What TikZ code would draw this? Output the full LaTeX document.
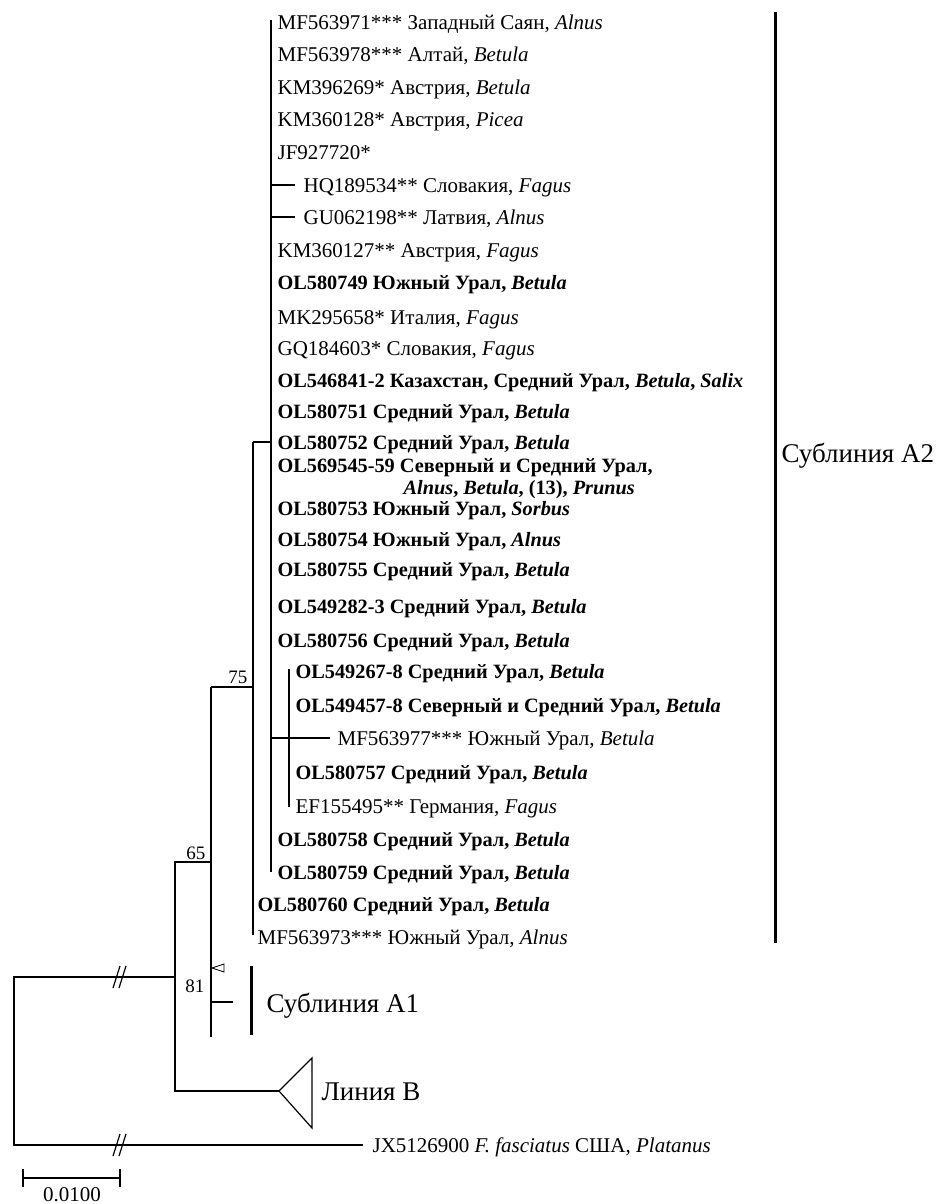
\documentclass[tikz,border=0pt]{standalone}
\usepackage{fontspec}
\setmainfont{Liberation Serif}
\newcommand\boldleaf{\fontsize{20.3}{24}\selectfont\bfseries}
\begin{document}
\begin{tikzpicture}[x=1pt, y=-1pt, line width=1.2pt, line join=miter,
    leaf/.style={anchor=base west, inner sep=0pt, font=\fontsize{21}{24}\selectfont},
    boot/.style={anchor=base east, inner sep=0pt, font=\fontsize{19}{22}\selectfont},
    clade/.style={anchor=base west, inner sep=0pt, font=\fontsize{27}{30}\selectfont},
    bar/.style={line width=3pt}]
\useasboundingbox (0,0) rectangle (942,1204);
% tree nodes
\coordinate (rt) at (14,977);
\coordinate (rb) at (14,1145);
\coordinate (og) at (363,1145);
\coordinate (c65) at (175,977);
\coordinate (n65) at (175,862);
\coordinate (b65) at (175,1091);
\coordinate (tB) at (279,1091);
\coordinate (c81) at (211,862);
\coordinate (n81) at (211,687);
\coordinate (b81) at (211,1037);
\coordinate (n75) at (253,687);
\coordinate (t75) at (253,442);
\coordinate (e75) at (253,935);
\coordinate (pA) at (271,442);
\coordinate (pt) at (271,20);
\coordinate (pb) at (271,872);
\coordinate (s1) at (289,669);
\coordinate (s2) at (289,807);
% branches
\draw (c65) -- (rt) -- (rb) -- (og);
\draw (c81) -- (n65) -- (b65) -- (tB);
\draw (tB) -- (312,1058) -- (312,1128) -- cycle;
\draw (n81) -- (b81);
\draw (n81) -- (n75);
\draw (211,1002) -- (233,1002);
\draw[line width=0.9pt] (212,968) -- (224,964) -- (224,972) -- cycle;
\draw (t75) -- (e75);
\draw (t75) -- (pA);
\draw (pt) -- (pb);
\draw (271,185) -- (295,185);
\draw (271,217) -- (295,217);
\draw (271,738) -- (330,738);
\draw (s1) -- (s2);
% breaks
\draw (113,988) -- (120,966);
\draw (119,988) -- (126,966);
\draw (113,1156) -- (120,1134);
\draw (119,1156) -- (126,1134);
% leaves
\foreach \y/\t [count=\i] in {
    23/{MF563971*** Западный Саян, \textit{Alnus}},
    55/{MF563978*** Алтай, \textit{Betula}},
    88/{KM396269* Австрия, \textit{Betula}},
    120/{KM360128* Австрия, \textit{Picea}},
    152/{JF927720*},
    250/{KM360127** Австрия, \textit{Fagus}},
    282/{\boldleaf OL580749 Южный Урал, \textit{Betula}},
    317/{MK295658* Италия, \textit{Fagus}},
    348/{GQ184603* Словакия, \textit{Fagus}},
    380/{\boldleaf OL546841-2 Казахстан, Средний Урал, \textit{Betula}, \textit{Salix}},
    411/{\boldleaf OL580751 Средний Урал, \textit{Betula}},
    442/{\boldleaf OL580752 Средний Урал, \textit{Betula}},
    465/{\boldleaf OL569545-59 Северный и Средний Урал,},
    508/{\boldleaf OL580753 Южный Урал, \textit{Sorbus}},
    539/{\boldleaf OL580754 Южный Урал, \textit{Alnus}},
    569/{\boldleaf OL580755 Средний Урал, \textit{Betula}},
    606/{\boldleaf OL549282-3 Средний Урал, \textit{Betula}},
    640/{\boldleaf OL580756 Средний Урал, \textit{Betula}},
    839/{\boldleaf OL580758 Средний Урал, \textit{Betula}},
    872/{\boldleaf OL580759 Средний Урал, \textit{Betula}}}
  \node[leaf] (a\i) at (277,\y+7) {\t};
\node[leaf] (a13b) at (403,487+7) {\boldleaf\textit{Alnus}, \textit{Betula}, (13), \textit{Prunus}};
\node[leaf] (hq) at (303,185+7) {HQ189534** Словакия, \textit{Fagus}};
\node[leaf] (gu) at (303,217+7) {GU062198** Латвия, \textit{Alnus}};
\node[leaf] (b1) at (295,671+7) {\boldleaf OL549267-8 Средний Урал, \textit{Betula}};
\node[leaf] (b2) at (295,705+7) {\boldleaf OL549457-8 Северный и Средний Урал, \textit{Betula}};
\node[leaf] (b3) at (337,738+7) {MF563977*** Южный Урал, \textit{Betula}};
\node[leaf] (b4) at (295,772+7) {\boldleaf OL580757 Средний Урал, \textit{Betula}};
\node[leaf] (b5) at (295,806+7) {EF155495** Германия, \textit{Fagus}};
\node[leaf] (c1) at (257,904+7) {\boldleaf OL580760 Средний Урал, \textit{Betula}};
\node[leaf] (c2) at (257,937+7) {MF563973*** Южный Урал, \textit{Alnus}};
\node[leaf] (out) at (372,1145+7) {JX5126900 \textit{F. fasciatus} США, \textit{Platanus}};
% support values
\node[boot] (v75) at (248,683) {75};
\node[boot] (v65) at (206,859) {65};
\node[boot] (v81) at (205,992) {81};
% clade bars
\draw[bar] (775,12) -- (775,943);
\draw[bar] (251,966) -- (251,1035);
\node[clade] (lA2) at (781,453+9) {Сублиния A2};
\node[clade] (lA1) at (266,1003+9) {Сублиния A1};
\node[clade] (lB) at (321,1091+9) {Линия B};
% scale
\draw (23,1178) -- (120,1178);
\draw (23,1169) -- (23,1187);
\draw (120,1169) -- (120,1187);
\node[anchor=base, inner sep=0pt, font=\fontsize{21}{24}\selectfont] (sc) at (72,1201) {0.0100};
\end{tikzpicture}
\end{document}
